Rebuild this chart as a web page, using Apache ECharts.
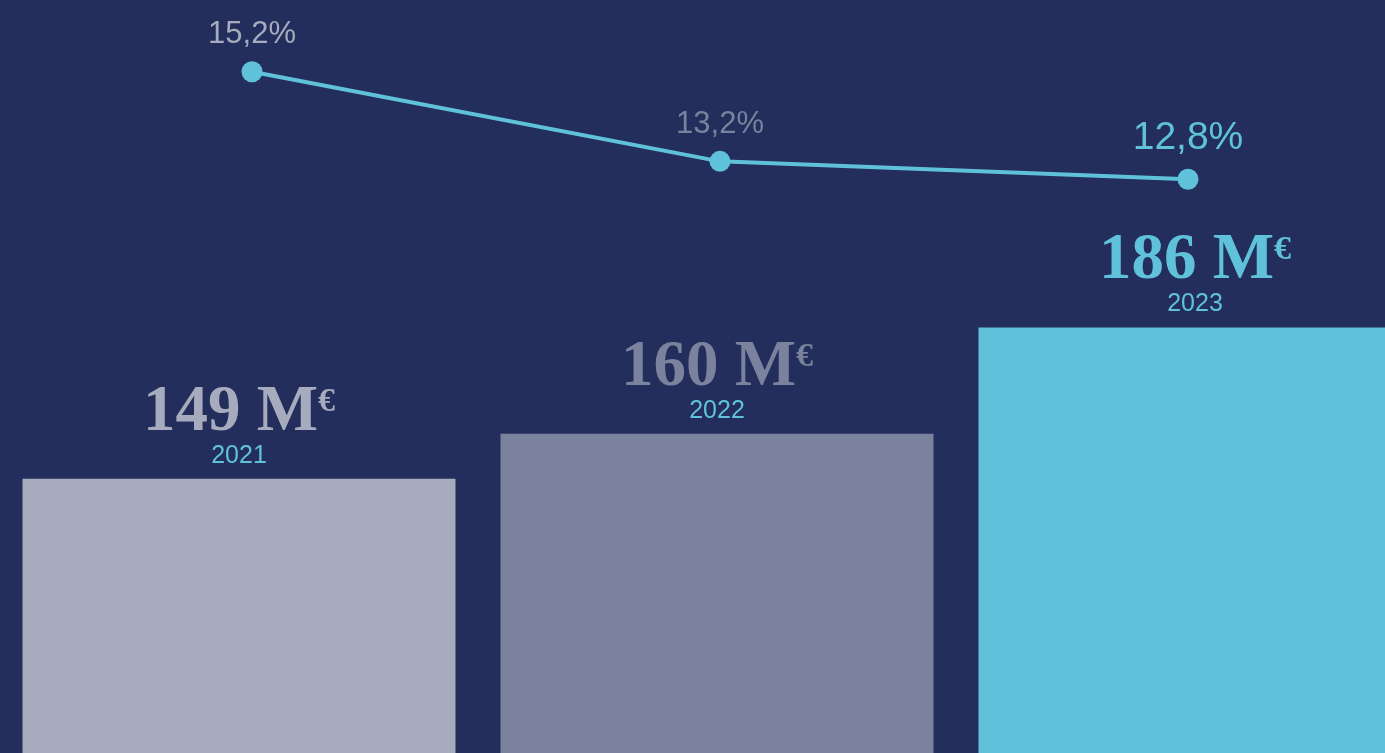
<!DOCTYPE html>
<html>
<head>
<meta charset="utf-8">
<style>
  html, body { margin: 0; padding: 0; background: #232E5C; }
  #chart { width: 1385px; height: 753px; }
</style>
<script src="https://cdn.jsdelivr.net/npm/echarts@6/dist/echarts.min.js"></script>
</head>
<body>
<div id="chart"></div>
<script>
// Revenue per year (M€) and margin (%)
const years = ['2021', '2022', '2023'];
const revenue = [149, 160, 186];
const margin = [15.2, 13.2, 12.8];

// Palette: one tone per year, the latest year highlighted in cyan
const tones = ['#A6ABBE', '#7B829D', '#60C2DA'];
const accent = '#60C2DA';
const navy = '#232E5C';

const serif = '"Liberation Serif", "DejaVu Serif", serif';
const sans = '"Liberation Sans", Arial, sans-serif';

const fmtPct = v => v.toFixed(1).replace('.', ',') + '%';

// Rich styles for the revenue labels (value line tinted like its bar, year line in cyan)
const rich = { y: { fontFamily: sans, fontSize: 25, lineHeight: 30, color: accent, align: 'center' } };
tones.forEach((c, i) => {
  rich['v' + i] = { fontFamily: serif, fontWeight: 'bold', fontSize: 65, lineHeight: 56, color: c };
  rich['e' + i] = { fontFamily: serif, fontWeight: 'bold', fontSize: 34, lineHeight: 34, color: c, verticalAlign: 'top' };
});

const barData = revenue.map((v, i) => ({ value: v, itemStyle: { color: tones[i] } }));

const lineData = margin.map((v, i) => ({
  value: v,
  label: {
    color: tones[i],
    fontSize: i === margin.length - 1 ? 39 : 31
  }
}));

const chart = echarts.init(document.getElementById('chart'), null, { renderer: 'canvas' });

chart.setOption({
  backgroundColor: navy,
  animation: false,
  grid: [
    // the plot runs past the right edge, so the last bar is cut by the frame
    { left: 0, top: 0, width: 1434, height: 753, outerBoundsMode: 'none', containLabel: false },
    { left: 18, top: 0, width: 1404, height: 753, outerBoundsMode: 'none', containLabel: false }
  ],
  xAxis: [
    { type: 'category', data: years, gridIndex: 0, show: false },
    { type: 'category', data: years, gridIndex: 1, show: false }
  ],
  yAxis: [
    { type: 'value', min: 82, max: 266, gridIndex: 0, show: false },
    { type: 'value', min: 0, max: 16.8, gridIndex: 1, show: false }
  ],
  series: [
    {
      type: 'bar',
      xAxisIndex: 0,
      yAxisIndex: 0,
      data: barData,
      barWidth: 433,
      label: {
        show: true,
        position: 'top',
        distance: 8,
        align: 'center',
        formatter: p => `{v${p.dataIndex}|${p.value} M}{e${p.dataIndex}|€}\n{y|${years[p.dataIndex]}}`,
        rich: rich
      }
    },
    {
      type: 'line',
      xAxisIndex: 1,
      yAxisIndex: 1,
      data: lineData,
      symbol: 'circle',
      symbolSize: 21,
      z: 5,
      lineStyle: { color: accent, width: 4 },
      itemStyle: { color: accent },
      label: {
        show: true,
        position: 'top',
        distance: 11,
        fontFamily: sans,
        formatter: p => fmtPct(p.value)
      }
    }
  ]
});
</script>
</body>
</html>
